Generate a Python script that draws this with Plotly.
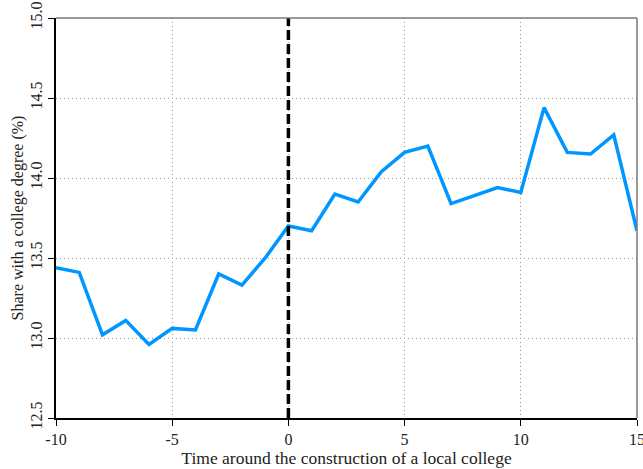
import plotly.graph_objects as go

years = list(range(-10, 16))
share = [13.44, 13.41, 13.02, 13.11, 12.96, 13.06, 13.05, 13.40, 13.33, 13.50,
         13.70, 13.67, 13.90, 13.85, 14.04, 14.16, 14.20, 13.84, 13.89, 13.94,
         13.91, 14.44, 14.16, 14.15, 14.27, 13.67]
x_ticks = [-10, -5, 0, 5, 10, 15]
x_labels = ["-10", "-5", "0", "5", "10", "15"]
y_ticks = [12.5, 13.0, 13.5, 14.0, 14.5, 15.0]
y_labels = ["12.5", "13.0", "13.5", "14.0", "14.5", "15.0"]

font = "Liberation Serif"

fig = go.Figure()
fig.add_trace(go.Scatter(x=years, y=share, mode="lines",
                         line=dict(color="rgb(0,150,255)", width=3.5),
                         showlegend=False))

fig.add_vline(x=0, line=dict(color="black", width=3.5, dash="10px,4px"))
# top and right frame lines in gray
fig.add_shape(type="line", xref="paper", yref="paper", x0=0, x1=1, y0=1, y1=1,
              line=dict(color="#7a7a7a", width=1.5))
fig.add_shape(type="line", xref="paper", yref="paper", x0=1, x1=1, y0=0, y1=1,
              line=dict(color="#7a7a7a", width=1.5))

fig.update_layout(
    width=643, height=469,
    margin=dict(l=56, r=6, t=18, b=51),
    plot_bgcolor="white", paper_bgcolor="white",
    font=dict(family=font, size=16, color="#222222"),
    xaxis=dict(range=[-10, 15], tickvals=x_ticks, ticktext=x_labels,
               automargin=False, ticklabeloverflow="allow",
               showgrid=True,
               gridcolor="#999999", griddash="1px,3px", gridwidth=1,
               showline=True, linecolor="black", linewidth=1.5,
               ticks="outside", ticklen=6, tickcolor="black",
               zeroline=False,
               title=dict(text="Time around the construction of a local college",
                          font=dict(size=17.5), standoff=0)),
    yaxis=dict(range=[12.5, 15.0], tickvals=y_ticks, ticktext=y_labels,
               automargin=False, ticklabeloverflow="allow",
               tickangle=-90, showgrid=True,
               gridcolor="#999999", griddash="1px,3px", gridwidth=1,
               showline=True, linecolor="black", linewidth=1.5,
               ticks="outside", ticklen=6, tickcolor="black",
               zeroline=False,
               title=dict(text="Share with a college degree (%)",
                          font=dict(size=16), standoff=0)),
)

fig.write_html("out.html", config={"displayModeBar": False},
               post_script="document.body.style.margin='0';document.body.style.overflow='hidden';")
